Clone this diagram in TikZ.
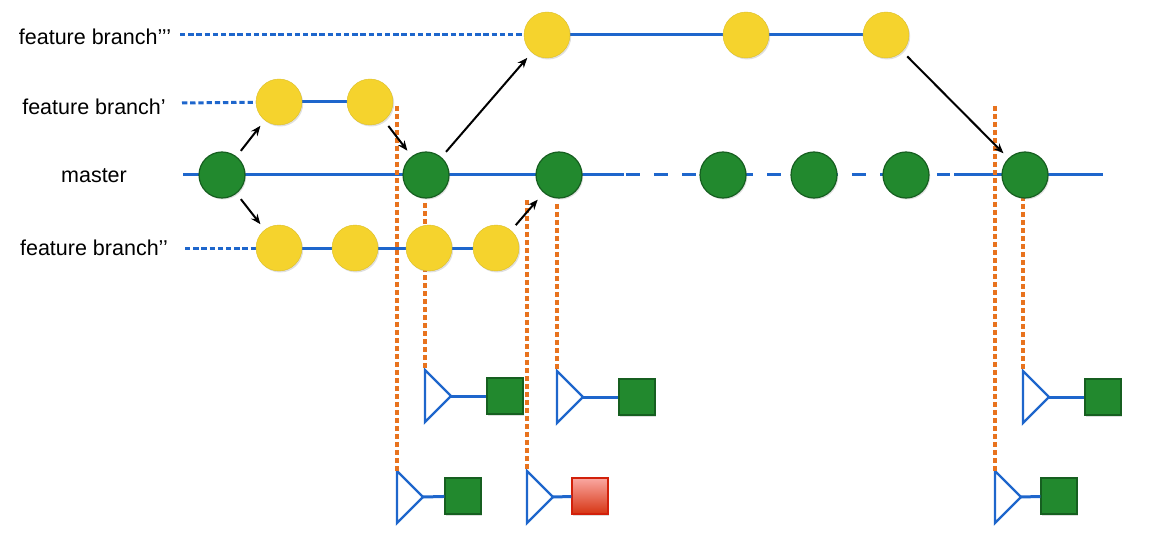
\documentclass[tikz,border=0pt]{standalone}
\usepackage{fontspec}
\setmainfont{Liberation Sans}
\usetikzlibrary{shadows,arrows.meta}
\definecolor{gitblue}{RGB}{30,102,204}
\definecolor{gitgreen}{RGB}{34,137,46}
\definecolor{gitgreenD}{RGB}{22,95,32}
\definecolor{gityellow}{RGB}{245,211,45}
\definecolor{gitorange}{RGB}{232,115,30}
\definecolor{redtop}{RGB}{250,168,162}
\definecolor{redbot}{RGB}{214,52,18}
\definecolor{redD}{RGB}{210,32,10}
\tikzset{
  lbl/.style={font=\fontsize{21.5}{26}\selectfont, anchor=center, inner sep=0pt},
  commitY/.style={circle, minimum size=46pt, inner sep=0pt, fill=gityellow, draw=gityellow!90!black, line width=0.4pt,
     drop shadow={shadow xshift=1.2pt, shadow yshift=-1.5pt, opacity=0.25}},
  commitG/.style={circle, minimum size=46pt, inner sep=0pt, fill=gitgreen, draw=gitgreenD, line width=1.2pt,
     drop shadow={shadow xshift=1.2pt, shadow yshift=-1.5pt, opacity=0.25}},
  gsq/.style={rectangle, minimum size=36pt, inner sep=0pt, fill=gitgreen, draw=gitgreenD, line width=1.3pt,
     drop shadow={shadow xshift=1.2pt, shadow yshift=-1.5pt, opacity=0.25}},
  rsq/.style={rectangle, minimum size=36pt, inner sep=0pt, top color=redtop, bottom color=redbot, draw=redD, line width=1.3pt,
     drop shadow={shadow xshift=1.2pt, shadow yshift=-1.5pt, opacity=0.25}},
  branchline/.style={gitblue, line width=3pt},
  branchdot/.style={gitblue, line width=3pt, dash pattern=on 5.3pt off 2.9pt},
  masterdash/.style={gitblue, line width=3pt, dash pattern=on 14.3pt off 14pt},
  tagdot/.style={gitorange, line width=3.2pt, dash pattern=on 5pt off 3pt},
  tristyle/.style={gitblue, line width=2.4pt, fill=white, line join=miter},
  merge/.style={black, line width=2pt, -{Stealth[length=10pt,width=8pt]}, shorten <=7pt, shorten >=7pt},
}
\newcommand{\tagtri}[3]{%
  \coordinate (#1-tl) at (#2,#3-26);
  \coordinate (#1-bl) at (#2,#3+26);
  \coordinate (#1) at (#2+26,#3);
  \draw[tristyle] (#1-tl) -- (#1) -- (#1-bl) -- cycle;
}
\begin{document}
\begin{tikzpicture}[x=1pt,y=-1pt]
\useasboundingbox (0,0) rectangle (1151,548);
% labels
\node[lbl] (L3) at (95,37) {feature branch’’’};
\node[lbl] (L1) at (94,107) {feature branch’};
\node[lbl] (LM) at (94,176) {master};
\node[lbl] (L2) at (94,248) {feature branch’’};
% coordinates of commits
\coordinate (cM1) at (222,175);
\coordinate (cM2) at (426,175);
\coordinate (cM3) at (559,175);
\coordinate (cM4) at (723,175);
\coordinate (cM5) at (814,175);
\coordinate (cM6) at (906,175);
\coordinate (cM7) at (1025,175);
\coordinate (cA1) at (279,102);
\coordinate (cA2) at (370,102);
\coordinate (cB1) at (279,248);
\coordinate (cB2) at (355,248);
\coordinate (cB3) at (429,248);
\coordinate (cB4) at (496,248);
\coordinate (cC1) at (547,35);
\coordinate (cC2) at (746,35);
\coordinate (cC3) at (886,35);
% line ends
\coordinate (m0) at (183,175);
\coordinate (m1) at (624,175);
\coordinate (m2) at (625.5,175);
\coordinate (m3) at (950,175);
\coordinate (m4) at (954,175);
\coordinate (m5) at (1103,175);
\coordinate (d3) at (180,35);
\coordinate (d1) at (182,103);
\coordinate (d2) at (185,248);
% branch lines
\draw[branchline] (m0) -- (m1);
\draw[masterdash] (m2) -- (m3);
\draw[branchline] (m4) -- (m5);
\draw[branchdot] (d3) -- (cC1);
\draw[branchline] (cC1) -- (cC3);
\draw[branchdot] (d1) -- (cA1);
\draw[branchline] (cA1) -- (cA2);
\draw[branchdot] (d2) -- (cB1);
\draw[branchline] (cB1) -- (cB4);
% tag triangles and squares
\tagtri{UA}{425}{396}
\tagtri{UB}{557}{397}
\tagtri{UC}{1023}{397}
\tagtri{LA}{397}{497}
\tagtri{LB}{527}{497}
\tagtri{LC}{995}{497}
\node[gsq] (SUA) at (505,396) {};
\node[gsq] (SUB) at (637,397) {};
\node[gsq] (SUC) at (1103,397) {};
\node[gsq] (SLA) at (463,496) {};
\node[rsq] (SLB) at (590,496) {};
\node[gsq] (SLC) at (1059,496) {};
\draw[branchline] (UA) -- (SUA);
\draw[branchline] (UB) -- (SUB);
\draw[branchline] (UC) -- (SUC);
\draw[branchline] (LA) -- (SLA);
\draw[branchline] (LB) -- (SLB);
\draw[branchline] (LC) -- (SLC);
% orange tag lines
\coordinate (o1) at (397,106);
\coordinate (o2) at (425,203);
\coordinate (o3) at (527,200);
\coordinate (o4) at (557,204);
\coordinate (o5) at (995,106);
\coordinate (o6) at (1023,196);
\draw[tagdot] (o1) -- (LA-tl);
\draw[tagdot] (o2) -- (UA-tl);
\draw[tagdot] (o3) -- (LB-tl);
\draw[tagdot] (o4) -- (UB-tl);
\draw[tagdot] (o5) -- (LC-tl);
\draw[tagdot] (o6) -- (UC-tl);
% commits
\node[commitG] (M1) at (cM1) {};
\node[commitG] (M2) at (cM2) {};
\node[commitG] (M3) at (cM3) {};
\node[commitG] (M4) at (cM4) {};
\node[commitG] (M5) at (cM5) {};
\node[commitG] (M6) at (cM6) {};
\node[commitG] (M7) at (cM7) {};
\node[commitY] (A1) at (cA1) {};
\node[commitY] (A2) at (cA2) {};
\node[commitY] (B1) at (cB1) {};
\node[commitY] (B2) at (cB2) {};
\node[commitY] (B3) at (cB3) {};
\node[commitY] (B4) at (cB4) {};
\node[commitY] (C1) at (cC1) {};
\node[commitY] (C2) at (cC2) {};
\node[commitY] (C3) at (cC3) {};
% merges / branch-offs
\draw[merge] (M1) -- (A1);
\draw[merge] (A2) -- (M2);
\draw[merge] (M1) -- (B1);
\draw[merge, shorten >=9pt] (B4) -- (M3);
\draw[merge] (M2) -- (C1);
\draw[merge] (C3) -- (M7);
\end{tikzpicture}
\end{document}
